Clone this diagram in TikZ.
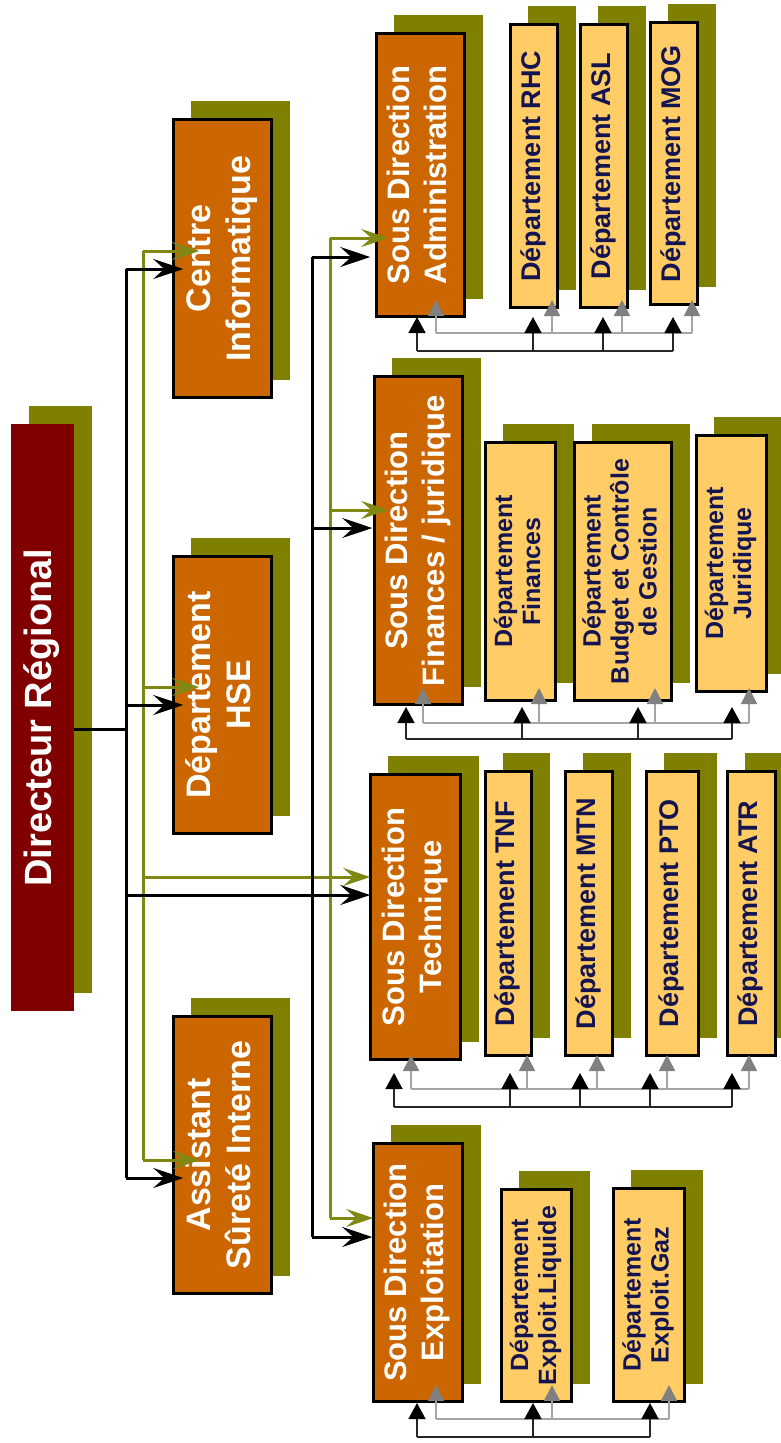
\documentclass[tikz,border=0pt]{standalone}
\usepackage{fontspec}
\setmainfont{Liberation Sans}
\usepackage{graphicx}
\usetikzlibrary{arrows.meta,shadows}
\definecolor{dred}{RGB}{128,0,0}
\definecolor{orng}{RGB}{204,102,0}
\definecolor{lite}{RGB}{255,204,102}
\definecolor{shad}{RGB}{128,128,0}
\definecolor{navy}{RGB}{20,20,80}
\definecolor{oline}{RGB}{128,136,20}
\definecolor{garr}{RGB}{128,128,128}
\definecolor{gline}{RGB}{165,165,165}
\newcommand\rtxt[1]{\rotatebox{90}{\begin{tabular}{@{}c@{}}#1\end{tabular}}}
\newcommand\bx[7]{\node[#6, minimum width={#4-#2-2.5}, minimum height={#5-#3-2.5}] (#1) at ({(#2+#4)/2},{(#3+#5)/2}) {\rtxt{#7}};}
\tikzset{
  shd/.style={general shadow={fill=shad, shadow xshift=18pt, shadow yshift=18pt}},
  dirbox/.style={shd, fill=dred, text=white, inner sep=0pt, outer sep=0pt, font=\bfseries\fontsize{38}{44}\selectfont},
  obox/.style={shd, fill=orng, draw=black, line width=2.8pt, text=white, inner sep=0pt, outer sep=0pt, font=\bfseries\fontsize{34}{40}\selectfont},
  sdbox/.style={obox, font=\bfseries\fontsize{31}{37}\selectfont},
  dbox/.style={shd, fill=lite, draw=black, line width=2.8pt, text=navy, inner sep=0pt, outer sep=0pt, font=\bfseries\fontsize{27}{31}\selectfont},
  dboxb/.style={dbox, font=\bfseries\fontsize{25}{28}\selectfont},
  blk/.style={draw=black, line width=3pt},
  blkarr/.style={blk, -{Stealth[length=30pt,width=20pt,inset=11pt]}},
  olv/.style={draw=oline, line width=3pt},
  olvarr/.style={olv, -{Stealth[length=27pt,width=18pt,inset=10pt]}},
  bbus/.style={draw=black!85, line width=1.6pt},
  bbarr/.style={bbus, -{Triangle[length=16pt,width=17pt,color=black]}},
  gbus/.style={draw=gline, line width=1.6pt},
  gbarr/.style={gbus, -{Triangle[length=16pt,width=16pt,color=garr]}}
}
\begin{document}
\begin{tikzpicture}[x=1pt,y=-1pt]
\fill[white] (0,0) rectangle (781,1443);
\clip (0,0) rectangle (781,1443);
\path[use as bounding box] (0,0) rectangle (781,1443);

% ---- boxes ----
\bx{dir}{10}{423}{75}{1012}{dirbox}{Directeur Régional}
\bx{centre}{172}{118}{273}{399}{obox}{Centre\\Informatique}
\bx{hse}{172}{555}{273}{835}{obox}{Département\\HSE}
\bx{asst}{172}{1015}{273}{1295}{obox}{Assistant\\Sûreté Interne}

\bx{sdadm}{375}{32}{466}{318}{sdbox}{Sous Direction\\Administration}
\bx{rhc}{509}{23}{559}{309}{dbox}{Département RHC}
\bx{asl}{579}{23}{629}{309}{dbox}{Département ASL}
\bx{mog}{649}{21}{699}{306}{dbox}{Département MOG}

\bx{sdfin}{373}{375}{464}{706}{sdbox}{Sous Direction\\Finances / juridique}
\bx{dfin}{484}{441}{557}{702}{dboxb}{Département\\Finances}
\bx{dbud}{573}{441}{673}{702}{dboxb}{Département\\Budget et Contrôle\\de Gestion}
\bx{djur}{695}{434}{768}{693}{dboxb}{Département\\Juridique}

\bx{sdtech}{369}{773}{462}{1061}{sdbox}{Sous Direction\\Technique}
\bx{tnf}{484}{770}{533}{1057}{dbox}{Département TNF}
\bx{mtn}{564}{770}{614}{1057}{dbox}{Département MTN}
\bx{pto}{645}{770}{700}{1057}{dbox}{Département PTO}
\bx{atr}{726}{770}{777}{1057}{dbox}{Département ATR}

\bx{sdexp}{372}{1142}{464}{1403}{sdbox}{Sous Direction\\Exploitation}
\bx{dliq}{500}{1188}{573}{1403}{dboxb}{Département\\Exploit.Liquide}
\bx{dgaz}{612}{1187}{686}{1403}{dboxb}{Département\\Exploit.Gaz}

% ---- olive trunks ----
\coordinate (oT) at (143,251); \coordinate (oH) at (143,687);
\coordinate (oTe) at (143,877); \coordinate (oB) at (143,1160);
\draw[olv] (oT) -- (oB);
\draw[olvarr, shorten >=-26pt] (oT) -- (oT -| centre.west);
\draw[olvarr, shorten >=-26pt] (oH) -- (oH -| hse.west);
\draw[olvarr, shorten >=-27pt] (oB) -- (oB -| asst.west);
\draw[olvarr] (oTe) -- (oTe -| sdtech.west);
\coordinate (pT) at (330,238); \coordinate (pF) at (330,510); \coordinate (pB) at (330,1218);
\draw[olv] (pT) -- (pB);
\draw[olvarr, shorten >=-12pt] (pT) -- (pT -| sdadm.west);
\draw[olvarr, shorten >=-14pt] (pF) -- (pF -| sdfin.west);
\draw[olvarr] (pB) -- (pB -| sdexp.west);

% ---- black trunks ----
\coordinate (d1) at (126,729);
\draw[blk] (dir.east |- d1) -- (d1);
\coordinate (bT) at (126,269); \coordinate (bH) at (126,705);
\coordinate (bTe) at (126,895); \coordinate (bB) at (126,1178);
\draw[blk] (bT) -- (bB);
\draw[blkarr, shorten >=-10pt] (bT) -- (bT -| centre.west);
\draw[blkarr, shorten >=-10pt] (bH) -- (bH -| hse.west);
\draw[blkarr, shorten >=-10pt] (bB) -- (bB -| asst.west);
\draw[blkarr] (bTe) -- (bTe -| sdtech.west);
\coordinate (cT) at (312,257); \coordinate (cF) at (312,528); \coordinate (cB) at (312,1237);
\draw[blk] (cT) -- (cB);
\draw[blkarr, shorten >=6pt] (cT) -- (cT -| sdadm.west);
\draw[blkarr, shorten >=2pt] (cF) -- (cF -| sdfin.west);
\draw[blkarr, shorten >=1pt] (cB) -- (cB -| sdexp.west);

% ---- Administration group ----
\foreach \n/\x in {1/417,2/533,3/603,4/673}{
  \coordinate (ab\n) at (\x,351); \coordinate (abt\n) at (\x,317);
  \coordinate (ag\n) at (\x+19,333); \coordinate (agt\n) at (\x+19,300);}
\draw[gbus] (ag1) -- (ag4);
\foreach \n in {1,...,4}{\draw[gbarr] (ag\n) -- (agt\n);}
\draw[bbus] (ab1) -- (ab4);
\foreach \n in {1,...,4}{\draw[bbarr] (ab\n) -- (abt\n);}

% ---- Finances group ----
\foreach \n/\x in {1/406,2/522,3/638,4/732}{
  \coordinate (fb\n) at (\x,739); \coordinate (fbt\n) at (\x,707);
  \coordinate (fg\n) at (\x+17,723); \coordinate (fgt\n) at (\x+17,688);}
\draw[gbus] (fg1) -- (fg4);
\foreach \n in {1,...,4}{\draw[gbarr] (fg\n) -- (fgt\n);}
\draw[bbus] (fb1) -- (fb4);
\foreach \n in {1,...,4}{\draw[bbarr] (fb\n) -- (fbt\n);}

% ---- Technique group ----
\foreach \n/\x in {1/394,2/510,3/580,4/650,5/732}{
  \coordinate (tb\n) at (\x,1107); \coordinate (tbt\n) at (\x,1073);
  \coordinate (tg\n) at (\x+17,1089); \coordinate (tgt\n) at (\x+17,1055);}
\draw[gbus] (tg1) -- (tg5);
\foreach \n in {1,...,5}{\draw[gbarr] (tg\n) -- (tgt\n);}
\draw[bbus] (tb1) -- (tb5);
\foreach \n in {1,...,5}{\draw[bbarr] (tb\n) -- (tbt\n);}

% ---- Exploitation group ----
\foreach \n/\x in {1/417,2/533,3/650}{
  \coordinate (eb\n) at (\x,1437); \coordinate (ebt\n) at (\x,1403);
  \coordinate (eg\n) at (\x+19,1419); \coordinate (egt\n) at (\x+19,1385);}
\draw[gbus] (eg1) -- (eg3);
\foreach \n in {1,...,3}{\draw[gbarr] (eg\n) -- (egt\n);}
\draw[bbus] (eb1) -- (eb3);
\foreach \n in {1,...,3}{\draw[bbarr] (eb\n) -- (ebt\n);}
\end{tikzpicture}
\end{document}
